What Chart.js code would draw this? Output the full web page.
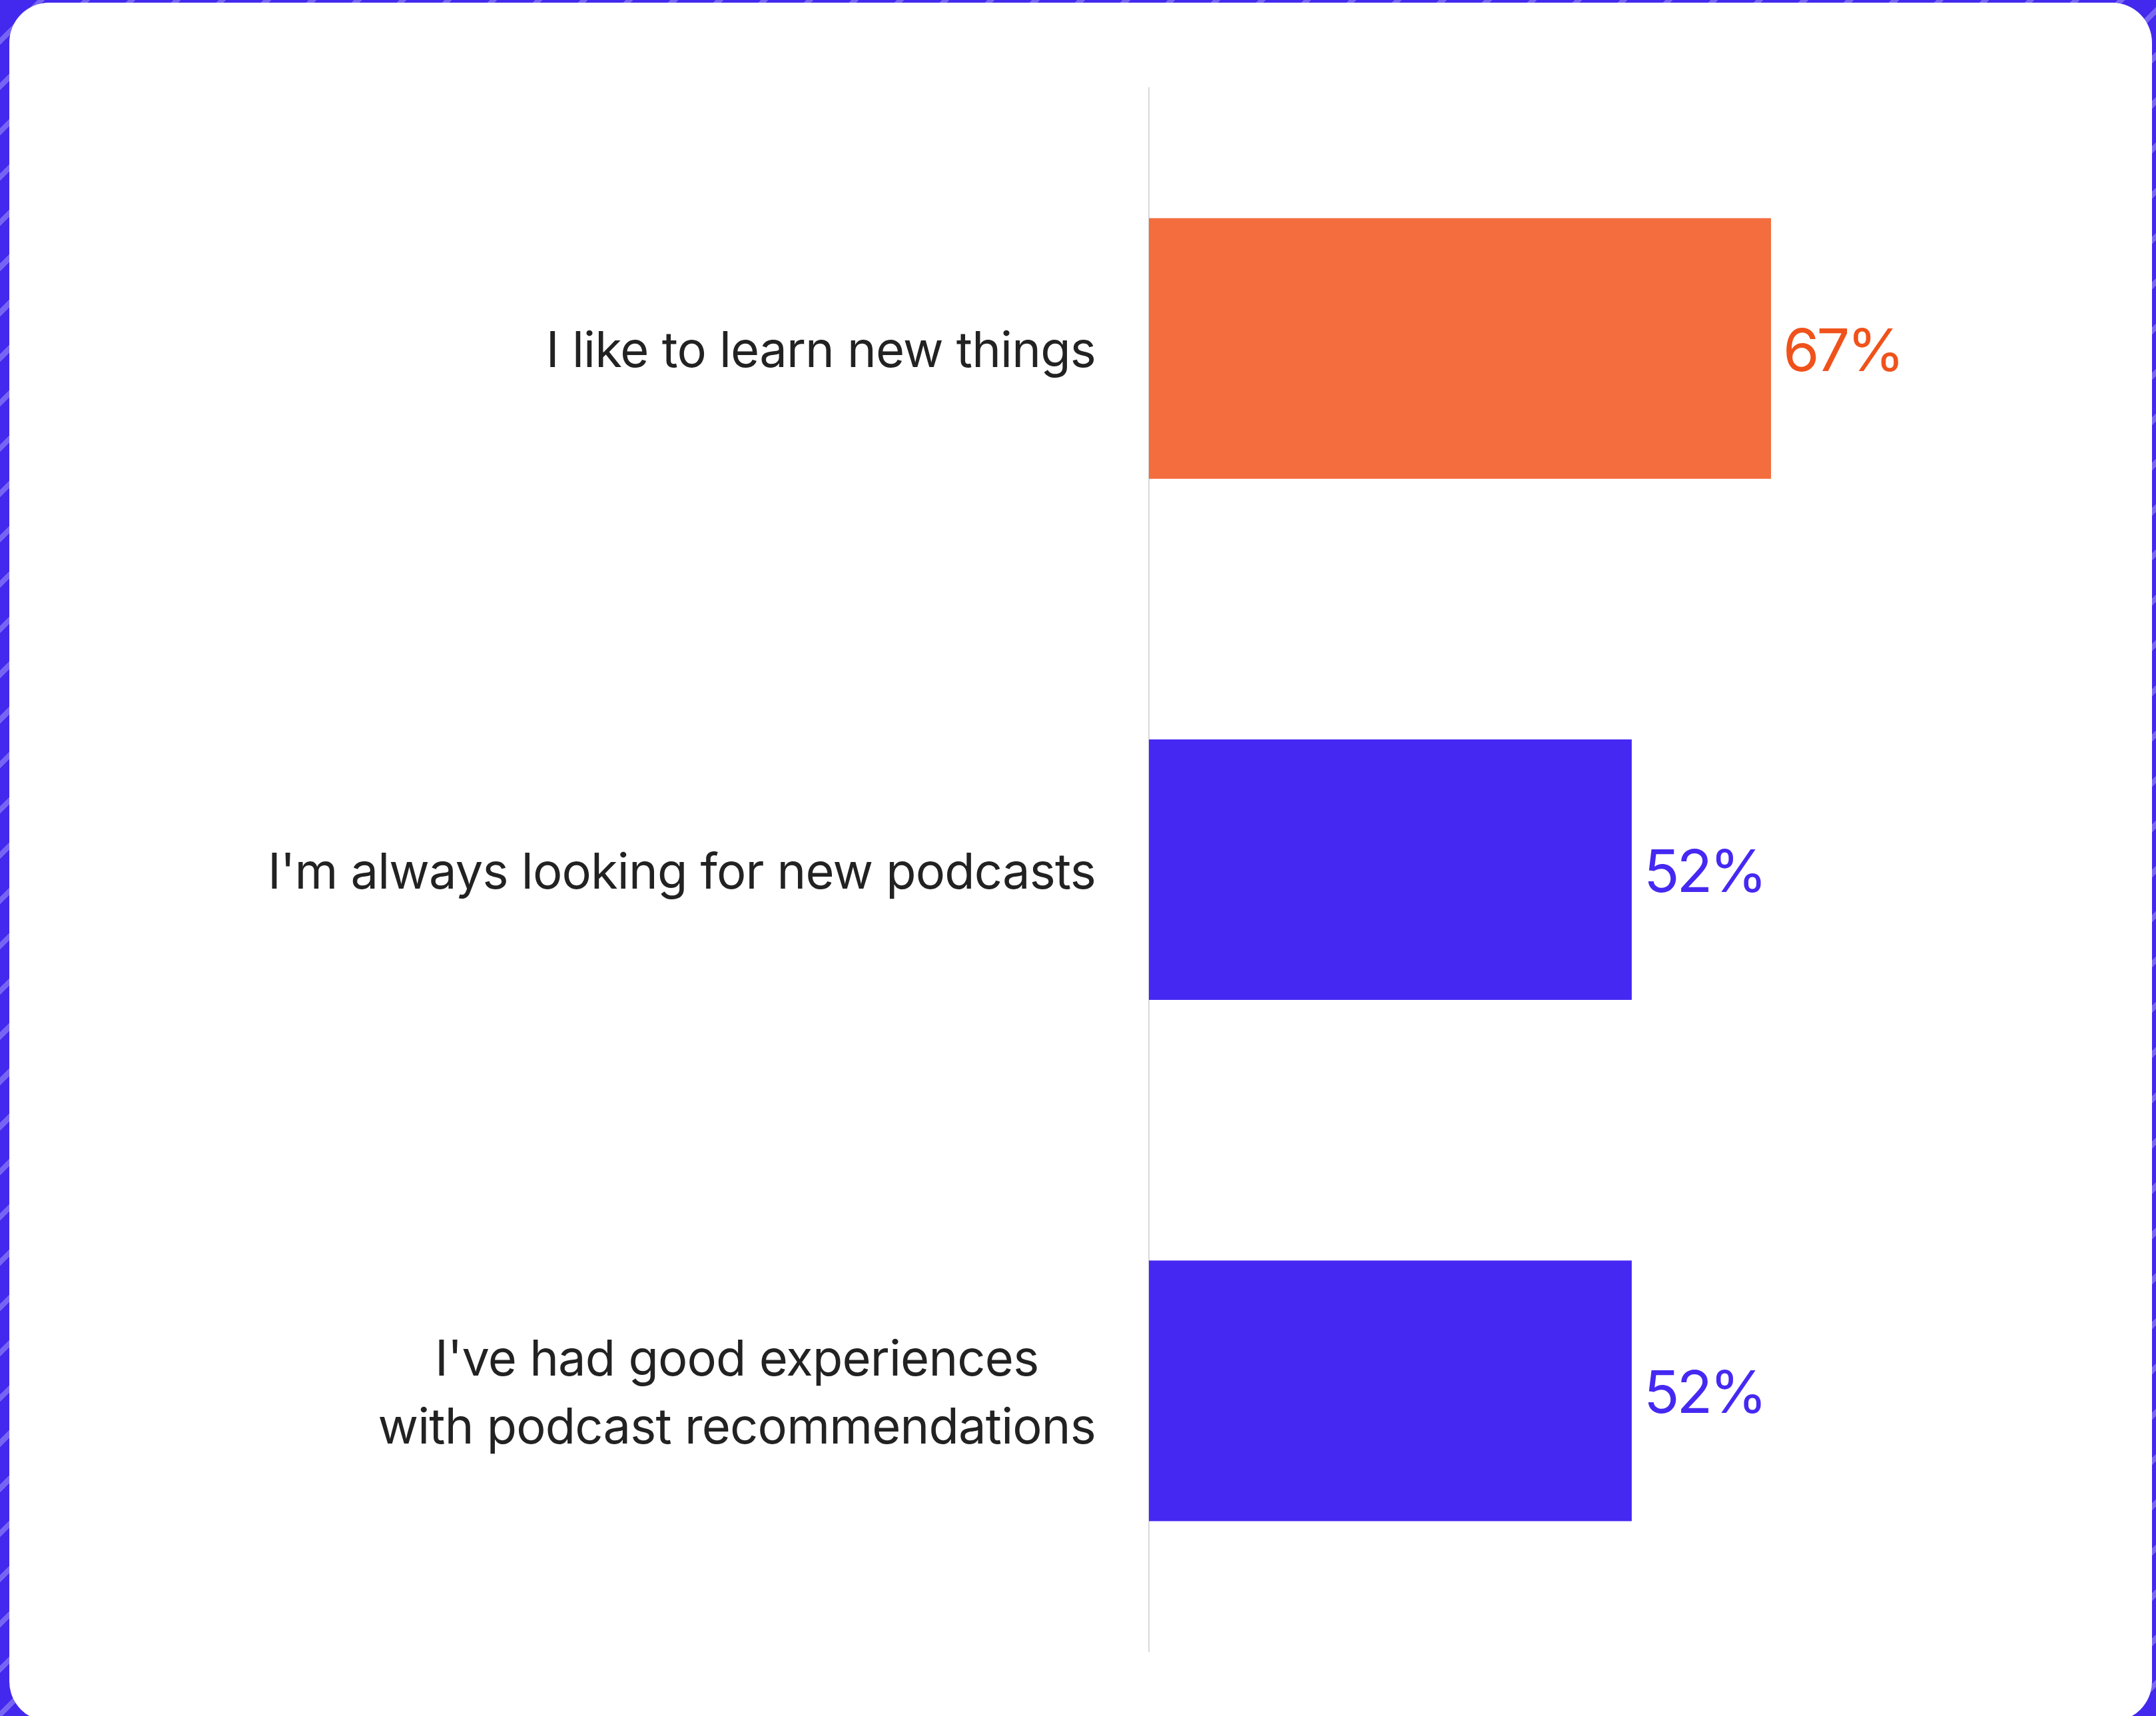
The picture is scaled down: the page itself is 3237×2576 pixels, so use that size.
<!DOCTYPE html>
<html>
<head>
<meta charset="utf-8">
<title>Why people try new podcasts</title>
<script src="https://cdn.jsdelivr.net/npm/chart.js@4.4.1/dist/chart.umd.min.js"></script>
<style>
  html, body { margin: 0; padding: 0; }
  body {
    width: 3237px; height: 2576px; overflow: hidden; position: relative;
    background-color: #4329ee;
    background-image: repeating-linear-gradient(135deg, rgba(255,255,255,0) 0 40px, rgba(255,255,255,0.28) 40px 48px);
  }
  .card {
    position: absolute; left: 14px; top: 4px; width: 3217px; height: 2580px;
    background: #ffffff; border-radius: 60px;
  }
  #chart { position: absolute; left: 0; top: 0; }
</style>
</head>
<body>
<div class="card"></div>
<canvas id="chart" width="3237" height="2576"></canvas>
<script>
// Survey answers, one row per statement
const categories = [
  "I like to learn new things",
  "I'm always looking for new podcasts",
  ["I've had good experiences", "with podcast recommendations"]
];
const shares = [67, 52, 52];
const axisRange = [0, 100];

const ORANGE = "#f36d3e";
const ORANGE_TEXT = "#f0521b";
const BLUE = "#4529f2";
const TEXT = "#222222";
const FONT = "Inter, 'Noto Sans', sans-serif";

const topShare = Math.max(...shares);

// Statement labels: right-aligned block, lines centred within each block
const statementLabels = {
  id: "statementLabels",
  afterDraw(chart) {
    const { ctx, chartArea } = chart;
    const y = chart.scales.y;
    const lineHeight = 102;
    ctx.save();
    ctx.font = "400 74px " + FONT;
    ctx.letterSpacing = "-0.8px";
    ctx.fillStyle = TEXT;
    ctx.textBaseline = "middle";
    ctx.textAlign = "center";
    categories.forEach((label, i) => {
      const lines = Array.isArray(label) ? label : [label];
      const widest = Math.max(...lines.map(l => ctx.measureText(l).width));
      const right = chartArea.left - 80;
      const cx = right - widest / 2;
      const cy = y.getPixelForTick(i) + 6;
      const start = cy - (lines.length - 1) * lineHeight / 2;
      lines.forEach((line, k) => ctx.fillText(line, cx, start + k * lineHeight));
    });
    ctx.restore();
  }
};

// Percentage printed just past the end of each bar
const valueLabels = {
  id: "valueLabels",
  afterDatasetsDraw(chart) {
    const { ctx } = chart;
    const meta = chart.getDatasetMeta(0);
    ctx.save();
    ctx.font = "400 88px " + FONT;
    ctx.letterSpacing = "-4px";
    ctx.textBaseline = "middle";
    ctx.textAlign = "left";
    meta.data.forEach((bar, i) => {
      const v = shares[i];
      ctx.fillStyle = v === topShare ? ORANGE_TEXT : BLUE;
      ctx.fillText(v + "%", bar.x + 18, bar.y + 7);
    });
    ctx.restore();
  }
};

new Chart(document.getElementById("chart"), {
  type: "bar",
  data: {
    labels: categories,
    datasets: [{
      data: shares,
      backgroundColor: c => c.raw === topShare ? ORANGE : BLUE,
      borderWidth: 0,
      barPercentage: 0.5,
      categoryPercentage: 1.0
    }]
  },
  options: {
    indexAxis: "y",
    responsive: false,
    devicePixelRatio: 1,
    animation: false,
    layout: { padding: { left: 1725, right: 118, top: 132, bottom: 97 } },
    plugins: { legend: { display: false }, tooltip: { enabled: false } },
    scales: {
      x: {
        display: false,
        min: axisRange[0],
        max: axisRange[1]
      },
      y: {
        grid: { display: false, drawTicks: false },
        border: { display: true, color: "#d9d9d9", width: 2 },
        ticks: { display: false }
      }
    }
  },
  plugins: [statementLabels, valueLabels]
});
</script>
</body>
</html>
